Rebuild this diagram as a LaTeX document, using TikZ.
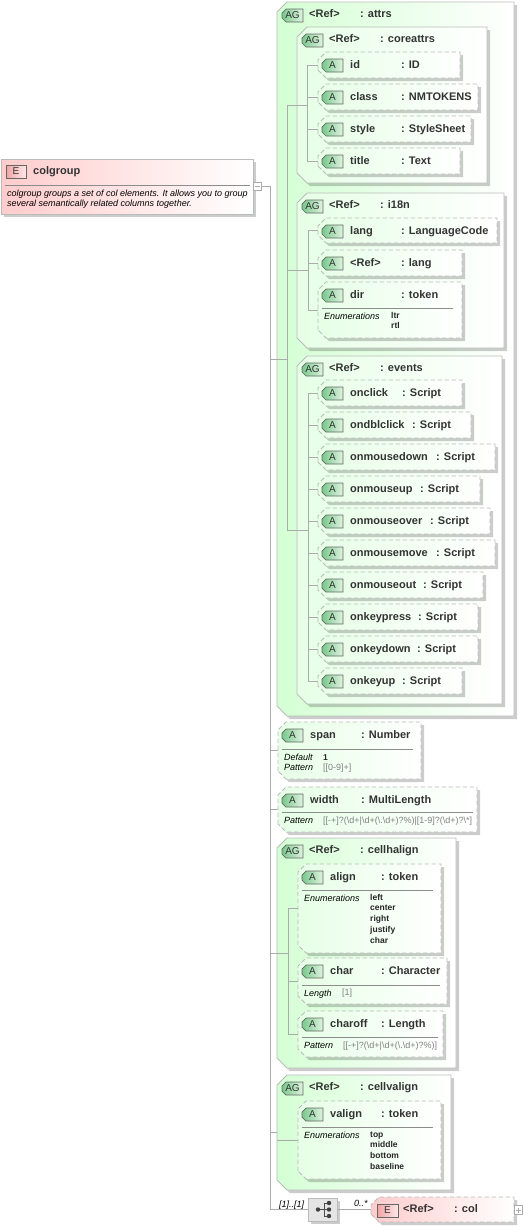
\documentclass[tikz,border=0pt]{standalone}
\usepackage{fontspec}
\usepackage{xcolor}
\setmainfont{Liberation Sans}
\usetikzlibrary{shadows}
\definecolor{boxgreen}{HTML}{D4FFD4}
\definecolor{attrgreen}{HTML}{E6FFE6}
\definecolor{boxpink}{HTML}{FFCCCC}
\definecolor{edgegray}{HTML}{B9BDB9}
\definecolor{linegray}{HTML}{ABABAB}
\definecolor{inkgray}{HTML}{333333}
\definecolor{badgegreen}{HTML}{78C88C}
\definecolor{badgepale}{HTML}{E0F4E0}
\definecolor{badgered}{HTML}{F0A4A4}
\definecolor{badgerose}{HTML}{FFE8E8}
\def\cutsize{8pt}
\makeatletter
\pgfdeclareshape{cutbox shape}{
  \inheritsavedanchors[from=rectangle]
  \inheritanchorborder[from=rectangle]
  \inheritanchor[from=rectangle]{center}
  \inheritanchor[from=rectangle]{north west}
  \inheritanchor[from=rectangle]{west}
  \inheritanchor[from=rectangle]{east}
  \backgroundpath{
    \southwest \pgf@xa=\pgf@x \pgf@ya=\pgf@y
    \northeast \pgf@xb=\pgf@x \pgf@yb=\pgf@y
    \pgfpathmoveto{\pgfqpoint{\pgf@xa}{\dimexpr\pgf@ya+\cutsize\relax}}
    \pgfpathlineto{\pgfqpoint{\pgf@xa}{\dimexpr\pgf@yb-\cutsize\relax}}
    \pgfpathlineto{\pgfqpoint{\dimexpr\pgf@xa+\cutsize\relax}{\pgf@yb}}
    \pgfpathlineto{\pgfqpoint{\pgf@xb}{\pgf@yb}}
    \pgfpathlineto{\pgfqpoint{\pgf@xb}{\pgf@ya}}
    \pgfpathlineto{\pgfqpoint{\dimexpr\pgf@xa+\cutsize\relax}{\pgf@ya}}
    \pgfpathclose
  }
}
\makeatother
\tikzset{
  cut size/.code={\def\cutsize{#1}},
  softshadow/.style={drop shadow={shadow xshift=3pt,shadow yshift=-3pt,fill=black,opacity=0.2}},
  cutbox/.style={shape=cutbox shape,inner sep=0pt,outer sep=0pt,anchor=north west,
    draw=edgegray,line width=0.9pt,softshadow},
  groupbox/.style={cutbox,cut size=10pt,right color=white},
  attrbox/.style={cutbox,left color=attrgreen,right color=white,dash pattern=on 4.5pt off 2.5pt},
  colbox/.style={cutbox,left color=boxpink,right color=white,dash pattern=on 4.5pt off 2.5pt},
  headbox/.style={shape=rectangle,inner sep=0pt,outer sep=0pt,anchor=north west,draw=edgegray,line width=0.9pt,
    left color=boxpink,right color=white,softshadow},
  seqbox/.style={shape=rectangle,inner sep=0pt,outer sep=0pt,anchor=north west,draw=edgegray,line width=0.9pt,
    fill=black!10,softshadow},
  togglebox/.style={shape=rectangle,inner sep=0pt,minimum size=8.5pt,draw=linegray,line width=0.7pt,fill=white},
  greenbadge/.style={shape=cutbox shape,cut size=4pt,inner sep=0pt,outer sep=0pt,minimum width=21pt,minimum height=13pt,
    anchor=north west,draw=black!60,line width=0.7pt,left color=badgegreen,right color=badgepale,
    font=\fontsize{10}{10}\selectfont,text=inkgray},
  redbadge/.style={shape=rectangle,inner sep=0pt,outer sep=0pt,minimum width=21pt,minimum height=13pt,
    anchor=north west,draw=black!60,line width=0.7pt,left color=badgered,right color=badgerose,
    font=\fontsize{10}{10}\selectfont,text=inkgray},
  titletext/.style={anchor=base west,inner sep=0pt,font=\bfseries\fontsize{11}{11}\selectfont,text=inkgray},
  facettext/.style={anchor=base west,inner sep=0pt,font=\itshape\fontsize{9}{9}\selectfont,text=black},
  valuetext/.style={anchor=base west,inner sep=0pt,font=\bfseries\fontsize{8.5}{8.5}\selectfont,text=black!85},
  patterntext/.style={anchor=base west,inner sep=0pt,font=\fontsize{9}{9}\selectfont,text=black!50},
  link/.style={draw=linegray,line width=0.8pt},
  rulerline/.style={draw=black!45,line width=0.7pt}
}
\begin{document}
\begin{tikzpicture}[x=1pt,y=-1pt]
\path[use as bounding box,fill=white] (0,0) rectangle (524,1227);
% groups
\foreach \nm/\typ/\tint/\x/\y/\w/\h in {attrs/attrs/boxgreen/277/2/237/714,coreattrs/coreattrs/attrgreen/297/27/190/156,
  itn/i18n/attrgreen/297/193/207/155,events/events/attrgreen/297/356/205/348,
  cellhalign/cellhalign/boxgreen/277/838/179/230,cellvalign/cellvalign/boxgreen/277/1075/174/115}{
  \node[groupbox,left color=\tint,minimum width=\w pt,minimum height=\h pt] (\nm) at (\x,\y) {};
  \node[greenbadge] (\nm-badge) at (\x+5,\y+7) {AG};
  \node[titletext] (\nm-label) at (\x+32,\y+15.5) {<Ref>};
  \node[titletext] (\nm-type) at (\x+83,\y+15.5) {: \typ};
}
% attributes
\foreach \nm/\lab/\typ/\x/\y/\w/\h/\tx in {id/id/ID/318/52/142/26/401,class/class/NMTOKENS/318/84/160/26/401,
  style/style/StyleSheet/318/116/153/26/401,title/title/Text/318/148/142/26/401,
  lang/lang/LanguageCode/318/218/179/25/401,reflang/<Ref>/lang/318/250/144/26/401,dir/dir/token/318/282/144/56/401,
  onclick/onclick/Script/318/380/144/26/402,ondblclick/ondblclick/Script/318/412/153/26/412,
  onmousedown/onmousedown/Script/318/444/177/26/436,onmouseup/onmouseup/Script/318/476/162/26/420,
  onmouseover/onmouseover/Script/318/508/172/26/430,onmousemove/onmousemove/Script/318/540/177/26/436,
  onmouseout/onmouseout/Script/318/572/165/26/423,onkeypress/onkeypress/Script/318/604/160/26/418,
  onkeydown/onkeydown/Script/318/636/160/26/417,onkeyup/onkeyup/Script/318/668/144/26/402,
  span/span/Number/278/722/143/57/361,width/width/MultiLength/278/787/199/45/361,
  align/align/token/298/864/143/89/381,char/char/Character/298/958/149/46/381,
  charoff/charoff/Length/298/1011/145/46/381,valign/valign/token/298/1101/143/78/381}{
  \node[attrbox,minimum width=\w pt,minimum height=\h pt] (\nm) at (\x,\y) {};
  \node[greenbadge] (\nm-badge) at (\x+4,\y+7) {A};
  \node[titletext] (\nm-label) at (\x+32,\y+16) {\lab};
  \node[titletext] (\nm-type) at (\tx,\y+16) {: \typ};
}
% facets
\draw[rulerline] (322,308)--(453,308);
\node[facettext] (dir-enum) at (324,319) {Enumerations};
\node[valuetext] (dir-ltr) at (391,318) {ltr};
\node[valuetext] (dir-rtl) at (391,328) {rtl};
\draw[rulerline] (282,749)--(413,749);
\node[facettext] (span-default) at (284,760) {Default};
\node[valuetext] (span-one) at (323,760) {1};
\node[facettext] (span-pattern) at (284,770) {Pattern};
\node[patterntext] (span-regex) at (323,770) {[[0-9]+]};
\draw[rulerline] (282,812)--(473,812);
\node[facettext] (width-pattern) at (284,823) {Pattern};
\node[patterntext] (width-regex) at (323,823) {[[-+]?(\textbackslash d+|\textbackslash d+(\textbackslash.\textbackslash d+)?\%)|[1-9]?(\textbackslash d+)?\textbackslash*]};
\draw[rulerline] (302,890)--(433,890);
\node[facettext] (align-enum) at (304,901) {Enumerations};
\foreach \val/\yy in {left/900,center/910,right/921,justify/932,char/943}
  \node[valuetext] (align-\val) at (370,\yy) {\val};
\draw[rulerline] (302,985)--(440,985);
\node[facettext] (char-length) at (304,996) {Length};
\node[patterntext] (char-one) at (342,995) {[1]};
\draw[rulerline] (302,1037)--(438,1037);
\node[facettext] (charoff-pattern) at (304,1048) {Pattern};
\node[patterntext] (charoff-regex) at (343,1048) {[[-+]?(\textbackslash d+|\textbackslash d+(\textbackslash.\textbackslash d+)?\%)]};
\draw[rulerline] (302,1127)--(433,1127);
\node[facettext] (valign-enum) at (304,1138) {Enumerations};
\foreach \val/\yy in {top/1137,middle/1147,bottom/1158,baseline/1169}
  \node[valuetext] (valign-\val) at (370,\yy) {\val};
% colgroup head
\node[headbox,minimum width=252pt,minimum height=55pt] (colgroup) at (1,159) {};
\node[redbadge,minimum width=20pt] (colgroup-badge) at (6,165) {E};
\node[titletext] (colgroup-label) at (33,174) {colgroup};
\draw[rulerline] (5,185)--(250,185);
\node[facettext] (colgroup-line1) at (7,196) {colgroup groups a set of col elements. It allows you to group};
\node[facettext] (colgroup-line2) at (7,206) {several semantically related columns together.};
\node[togglebox] (colminus) at (257.5,186.5) {};
\draw[link] (255,186.5)--(260,186.5);
% sequence and col
\node[seqbox,minimum width=29pt,minimum height=23pt] (seq) at (308,1198) {};
\node[colbox,minimum width=143pt,minimum height=25pt] (col) at (371,1197) {};
\node[redbadge] (col-badge) at (377,1204) {E};
\node[titletext] (col-label) at (403,1212) {<Ref>};
\node[titletext] (col-type) at (454,1212) {: col};
\node[togglebox] (colplus) at (518.5,1210) {};
\draw[link] (516,1210)--(521,1210) (518.5,1207.5)--(518.5,1212.5);
\draw[black!70,line width=1pt] (318,1209.5)--(324,1209.5) (324,1203)--(324,1216) (324,1203)--(329,1203) (324,1209.5)--(329,1209.5) (324,1216)--(329,1216);
\foreach \xx/\yy in {318/1209.5,329/1203,329/1209.5,329/1216}
  \fill[black!75] (\xx,\yy) circle (2.2pt);
\node[facettext] (seq-card) at (279,1207) {[1]..[1]};
\node[facettext] (col-card) at (354,1206) {0..*};
% connectors
\coordinate (trunk) at (270,186.5);
\coordinate (attrs-bus) at (287,0);
\coordinate (core-bus) at (307,0);
\coordinate (itn-bus) at (308,0);
\coordinate (events-bus) at (308,0);
\coordinate (halign-bus) at (288,0);
\draw[link] (colminus.east)--(trunk)--(trunk |- seq.west)--(seq.west);
\draw[link] (seq.east)--(col.west);
\foreach \nm in {attrs,span,width,cellhalign,cellvalign}
  \draw[link] (trunk |- \nm.west)--(\nm.west);
\draw[link] (attrs.west)--(attrs-bus |- attrs.west);
\draw[link] (attrs-bus |- coreattrs.west)--(attrs-bus |- events.west);
\foreach \nm in {coreattrs,itn,events}
  \draw[link] (attrs-bus |- \nm.west)--(\nm.west);
\draw[link] (coreattrs.west)--(core-bus |- coreattrs.west);
\draw[link] (core-bus |- id.west)--(core-bus |- title.west);
\foreach \nm in {id,class,style,title}
  \draw[link] (core-bus |- \nm.west)--(\nm.west);
\draw[link] (itn.west)--(itn-bus |- itn.west);
\draw[link] (itn-bus |- lang.west)--(itn-bus |- dir.west);
\foreach \nm in {lang,reflang,dir}
  \draw[link] (itn-bus |- \nm.west)--(\nm.west);
\draw[link] (events.west)--(events-bus |- events.west);
\draw[link] (events-bus |- onclick.west)--(events-bus |- onkeyup.west);
\foreach \nm in {onclick,ondblclick,onmousedown,onmouseup,onmouseover,onmousemove,onmouseout,onkeypress,onkeydown,onkeyup}
  \draw[link] (events-bus |- \nm.west)--(\nm.west);
\draw[link] (cellhalign.west)--(halign-bus |- cellhalign.west);
\draw[link] (halign-bus |- align.west)--(halign-bus |- charoff.west);
\foreach \nm in {align,char,charoff}
  \draw[link] (halign-bus |- \nm.west)--(\nm.west);
\draw[link] (cellvalign.west |- valign.west)--(valign.west);
\end{tikzpicture}
\end{document}
